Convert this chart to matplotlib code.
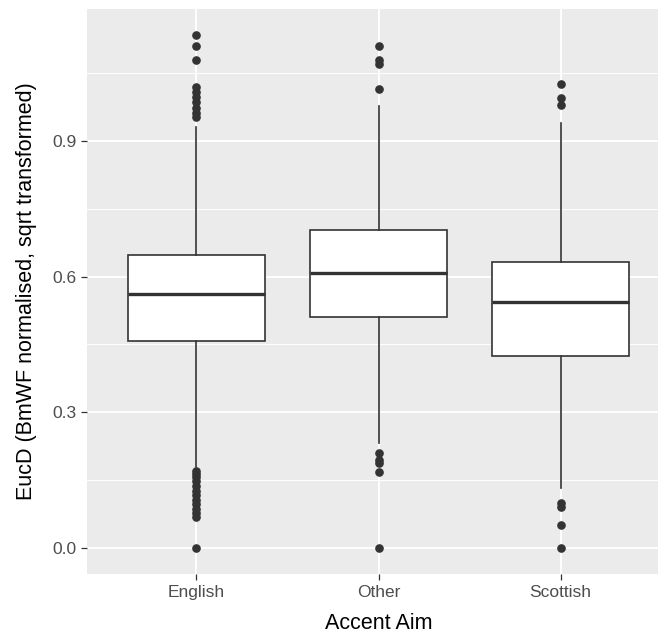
import matplotlib
matplotlib.use("Agg")
import matplotlib.pyplot as plt
from matplotlib.ticker import FixedLocator

# Accent aim groups and their box summaries (sqrt-transformed EucD)
groups = ["English", "Other", "Scottish"]
q1 = [0.458, 0.510, 0.425]
median = [0.562, 0.608, 0.544]
q3 = [0.648, 0.704, 0.633]
whisker_low = [0.180, 0.232, 0.132]
whisker_high = [0.931, 0.978, 0.940]

# Points beyond the whiskers
outliers_english = [1.135, 1.111, 1.078, 1.020, 1.009, 0.998, 0.985, 0.973,
                    0.962, 0.954, 0.170, 0.164, 0.157, 0.147, 0.137, 0.127,
                    0.117, 0.107, 0.097, 0.087, 0.077, 0.068, 0.0]
outliers_other = [1.111, 1.080, 1.070, 1.015, 0.210, 0.195, 0.188, 0.169, 0.0]
outliers_scottish = [1.025, 0.995, 0.980, 0.099, 0.091, 0.051, 0.0]

y_ticks = [0.0, 0.3, 0.6, 0.9]
y_minor = [0.15, 0.45, 0.75, 1.05]

plt.rcParams["font.family"] = ["Liberation Sans", "DejaVu Sans"]

fig = plt.figure(figsize=(6.58, 6.33), dpi=100)
ax = fig.add_axes([87 / 658, (633 - 573.6) / 633, (670 - 87) / 658, (573.6 - 9) / 633])
ax.set_facecolor("#EBEBEB")
for s in ax.spines.values():
    s.set_visible(False)

stats = []
for name, a, m, b, lo, hi, fl in zip(groups, q1, median, q3, whisker_low, whisker_high,
                                      [outliers_english, outliers_other, outliers_scottish]):
    stats.append(dict(label=name, q1=a, med=m, q3=b, whislo=lo, whishi=hi, fliers=fl))

edge = "#333333"
ax.bxp(stats, positions=[1, 2, 3], widths=0.75, patch_artist=True, showcaps=False,
       boxprops=dict(facecolor="white", edgecolor=edge, linewidth=1.2),
       medianprops=dict(color=edge, linewidth=2.4, solid_capstyle="butt"),
       whiskerprops=dict(color=edge, linewidth=1.2),
       flierprops=dict(marker="o", markerfacecolor=edge, markeredgecolor=edge,
                       markersize=5.2, linestyle="none"),
       zorder=3)

ymin, ymax = 0.0, 1.135
pad = 0.05 * (ymax - ymin)
ax.set_ylim(ymin - pad, ymax + pad)
ax.set_xlim(0.4, 3.6)

ax.yaxis.set_major_locator(FixedLocator(y_ticks))
ax.yaxis.set_minor_locator(FixedLocator(y_minor))
ax.set_yticklabels([f"{v:.1f}" for v in y_ticks])
ax.set_xticks([1, 2, 3])
ax.set_xticklabels(groups)

ax.grid(which="major", color="white", linewidth=1.3, zorder=0)
ax.grid(which="minor", axis="y", color="white", linewidth=0.65, zorder=0)
ax.set_axisbelow(True)

ax.tick_params(axis="both", which="major", length=4, width=0.9, color=edge,
               labelcolor="#4D4D4D", labelsize=12.5)
ax.tick_params(axis="x", which="major", pad=4.5)
ax.tick_params(axis="y", which="major", pad=3.5)
ax.tick_params(axis="y", which="minor", length=0)

ax.set_xlabel("Accent Aim", fontsize=15.5, color="black", labelpad=9)
ax.set_ylabel("EucD (BmWF normalised, sqrt transformed)", fontsize=15.5,
              color="black", labelpad=11)

fig.savefig("out.png", dpi=100, facecolor="white")
